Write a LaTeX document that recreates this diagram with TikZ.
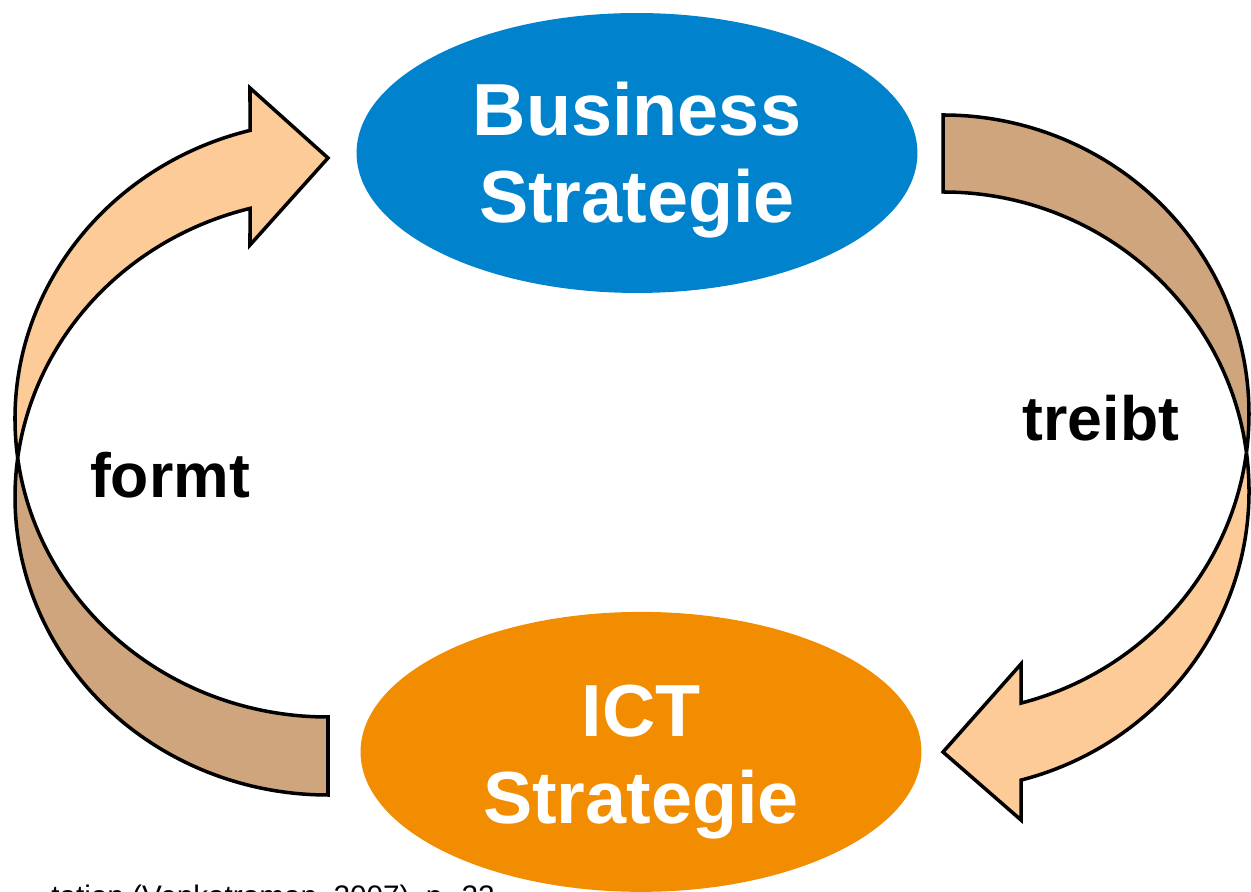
\documentclass[tikz,border=0pt]{standalone}
\usepackage{fontspec}
\setmainfont{Liberation Sans}
\usetikzlibrary{shapes.geometric}
\definecolor{bizblue}{RGB}{0,130,205}
\definecolor{ictorange}{RGB}{242,140,0}
\definecolor{ribbonfront}{RGB}{253,203,152}
\definecolor{ribbonback}{RGB}{206,165,125}

\begin{document}
\begin{tikzpicture}[x=0.02cm,y=0.02cm,node distance=11.98cm]
\tikzstyle{strategy}=[ellipse,draw=none,minimum width=11.22cm,minimum height=5.6cm]
\tikzstyle{strategy text}=[text=white,font=\fontsize{42}{49.5}\selectfont\bfseries,align=center]
\tikzstyle{relation}=[font=\fontsize{35.6}{42}\selectfont\bfseries,anchor=base]
\tikzstyle{ribbon}=[draw=black,line width=2pt]

\clip (0,0) rectangle (1251,892);

\node[strategy,fill=bizblue]
    (BS) at (637,739) {};
\node[strategy,fill=ictorange]
    (ICT) [below of=BS, xshift=0.08cm] {};
\node[strategy text] at ([yshift=-0.15cm]BS) {Business\\Strategie};
\node[strategy text] at ([yshift=-0.21cm]ICT) {ICT\\Strategie};

% formt: from ICT round the left up to BS
\coordinate (L1) at (328,473);
\coordinate (L2) at (328,395);
\path[ribbon,fill=ribbonback] ([shift={(187.52:313 and 298)}]L1)
      arc[start angle=187.52,end angle=270,x radius=313,y radius=298]
      -- ([shift={(270:313 and 298)}]L2)
      arc[start angle=270,end angle=172.48,x radius=313,y radius=298] -- cycle;
\path[ribbon,fill=ribbonfront] ([shift={(187.52:313 and 298)}]L1)
      arc[start angle=187.52,end angle=104.43,x radius=313,y radius=298]
      -- (250,804) -- (328,734) -- (250,647)
      -- ([shift={(104.43:313 and 298)}]L2)
      arc[start angle=104.43,end angle=172.48,x radius=313,y radius=298] -- cycle;

% treibt: from BS round the right down to ICT
\coordinate (R1) at (943,478);
\coordinate (R2) at (943,401);
\path[ribbon,fill=ribbonback] ([shift={(90:306 and 299)}]R1)
      arc[start angle=90,end angle=-7.40,x radius=306,y radius=299]
      -- ([shift={(7.40:306 and 299)}]R2)
      arc[start angle=7.40,end angle=90,x radius=306,y radius=299] -- cycle;
\path[ribbon,fill=ribbonfront] ([shift={(-7.40:306 and 299)}]R1)
      arc[start angle=-7.40,end angle=-75.23,x radius=306,y radius=299]
      -- (1021,228) -- (943,140) -- (1021,72)
      -- ([shift={(-75.23:306 and 299)}]R2)
      arc[start angle=-75.23,end angle=7.40,x radius=306,y radius=299] -- cycle;

\node[relation] (formt) at (170,394) {formt};
\node[relation] (treibt) at (1101,451) {treibt};

\node[font=\fontsize{16.9}{20}\selectfont,anchor=base west,inner sep=0]
    (source) at (51,-15) {tation (Venkatraman, 2007), p. 22};
\end{tikzpicture}
\end{document}
